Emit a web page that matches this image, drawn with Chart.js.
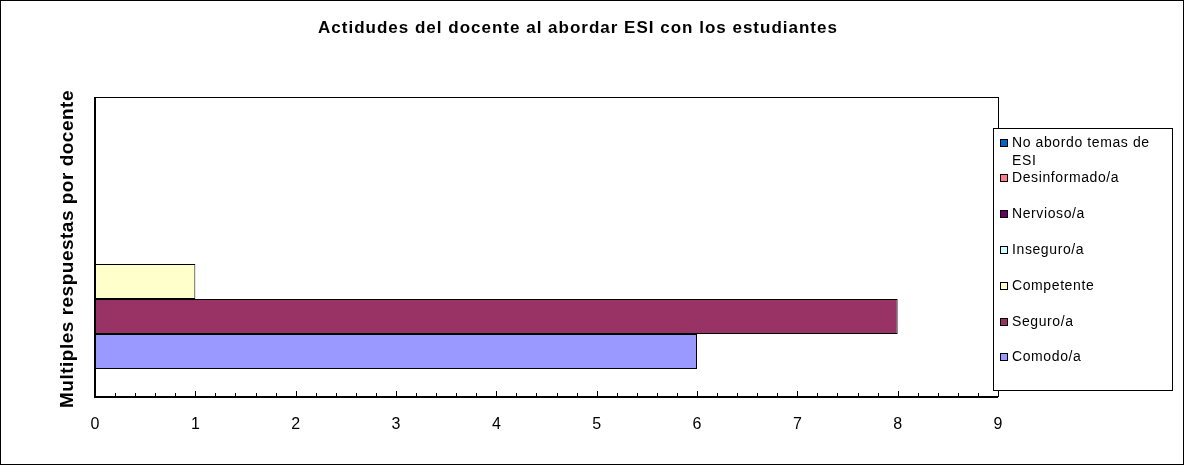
<!DOCTYPE html>
<html>
<head>
<meta charset="utf-8">
<script src="https://cdn.jsdelivr.net/npm/chart.js@4/dist/chart.umd.min.js"></script>
<style>
  html, body { margin: 0; padding: 0; background: #fff; }
  #wrap { width: 1184px; height: 465px; }
</style>
</head>
<body>
<div id="wrap"><canvas id="chartCanvas" width="1184" height="465"></canvas></div>
<script>
// data (top-to-bottom order as in the legend)
const categories = [""];
const seriesNames = ["No abordo temas de ESI", "Desinformado/a", "Nervioso/a", "Inseguro/a", "Competente", "Seguro/a", "Comodo/a"];
const seriesValues = [0, 0, 0, 0, 1, 8, 6];
const seriesColors = ["#0066CC", "#FF8080", "#660066", "#CCFFFF", "#FFFFCC", "#993366", "#9999FF"];
const xTicks = [0, 1, 2, 3, 4, 5, 6, 7, 8, 9];

const FONT = "'Liberation Sans', Arial, sans-serif";

const datasets = seriesNames.map((name, i) => ({
  label: name,
  data: [seriesValues[i]],
  backgroundColor: seriesColors[i],
  borderColor: "#000",
  borderWidth: 1,
  borderSkipped: false
}));

// frame, title, axis title, inner ticks and legend box
const decor = {
  id: "decor",
  afterDraw(chart) {
    const ctx = chart.ctx;
    const a = chart.chartArea;
    const x = chart.scales.x;
    ctx.save();
    // outer frame
    ctx.strokeStyle = "#000";
    ctx.lineWidth = 1;
    ctx.strokeRect(0.5, 0.5, chart.width - 1, chart.height - 1);
    // plot border
    ctx.strokeRect(Math.round(a.left) + 0.5, Math.round(a.top) + 0.5, Math.round(a.right - a.left), Math.round(a.bottom - a.top));
    ctx.lineWidth = 2;
    ctx.beginPath();
    ctx.moveTo(a.left, a.top);
    ctx.lineTo(a.left, a.bottom + 1);
    ctx.lineTo(a.right, a.bottom + 1);
    ctx.stroke();
    // ticks pointing into the plot
    ctx.lineWidth = 1;
    for (let v = 0; v <= 9.001; v += 0.2) {
      const px = Math.round(x.getPixelForValue(v)) + 0.5;
      const major = Math.abs(v - Math.round(v)) < 0.01;
      ctx.beginPath();
      ctx.moveTo(px, a.bottom);
      ctx.lineTo(px, a.bottom - (major ? 5 : 3));
      ctx.stroke();
    }
    // title
    ctx.fillStyle = "#000";
    ctx.textAlign = "center";
    ctx.textBaseline = "middle";
    ctx.font = "bold 17px " + FONT;
    ctx.letterSpacing = "1px";
    ctx.fillText("Actidudes del docente al abordar ESI con los estudiantes", 578, 28);
    // y axis title
    ctx.save();
    ctx.translate(68, 249);
    ctx.rotate(-Math.PI / 2);
    ctx.font = "bold 19px " + FONT;
    ctx.letterSpacing = "0.5px";
    ctx.fillText("Multiples respuestas por docente", 0, 0);
    ctx.restore();
    // legend
    const lx = 993, ly = 128, lw = 179, lh = 262;
    ctx.fillStyle = "#fff";
    ctx.fillRect(lx, ly, lw, lh);
    ctx.strokeStyle = "#000";
    ctx.strokeRect(lx + 0.5, ly + 0.5, lw, lh);
    ctx.font = "14px " + FONT;
    ctx.letterSpacing = "0.6px";
    ctx.textAlign = "left";
    const rows = [143, 178, 214, 250, 286, 322, 357];
    chart.data.datasets.forEach((ds, i) => {
      const cy = rows[i];
      ctx.fillStyle = ds.backgroundColor;
      ctx.fillRect(1000, cy - 4, 8, 8);
      ctx.strokeStyle = "#000";
      ctx.strokeRect(1000.5, cy - 3.5, 7, 7);
      ctx.fillStyle = "#000";
      if (i === 0) {
        ctx.fillText("No abordo temas de", 1012, cy);
        ctx.fillText("ESI", 1012, cy + 18);
      } else {
        ctx.fillText(ds.label, 1012, cy);
      }
    });
    ctx.restore();
  }
};

new Chart(document.getElementById("chartCanvas").getContext("2d"), {
  type: "bar",
  data: { labels: categories, datasets },
  options: {
    indexAxis: "y",
    responsive: false,
    animation: false,
    layout: { padding: { top: 97, right: 186, left: 0, bottom: 0 } },
    datasets: { bar: { categoryPercentage: 0.82, barPercentage: 1.0 } },
    plugins: { legend: { display: false }, tooltip: { enabled: false } },
    scales: {
      x: {
        min: 0,
        max: 9,
        afterFit(s) { s.height = 69; },
        afterBuildTicks(s) { s.ticks = xTicks.map(v => ({ value: v })); },
        grid: { display: false, drawTicks: false },
        border: { display: false },
        ticks: { color: "#000", font: { family: FONT, size: 16 }, padding: 19, maxRotation: 0 }
      },
      y: {
        afterFit(s) { s.width = 95; },
        grid: { display: false, drawTicks: false },
        border: { display: false },
        ticks: { display: false }
      }
    }
  },
  plugins: [decor]
});
</script>
</body>
</html>
